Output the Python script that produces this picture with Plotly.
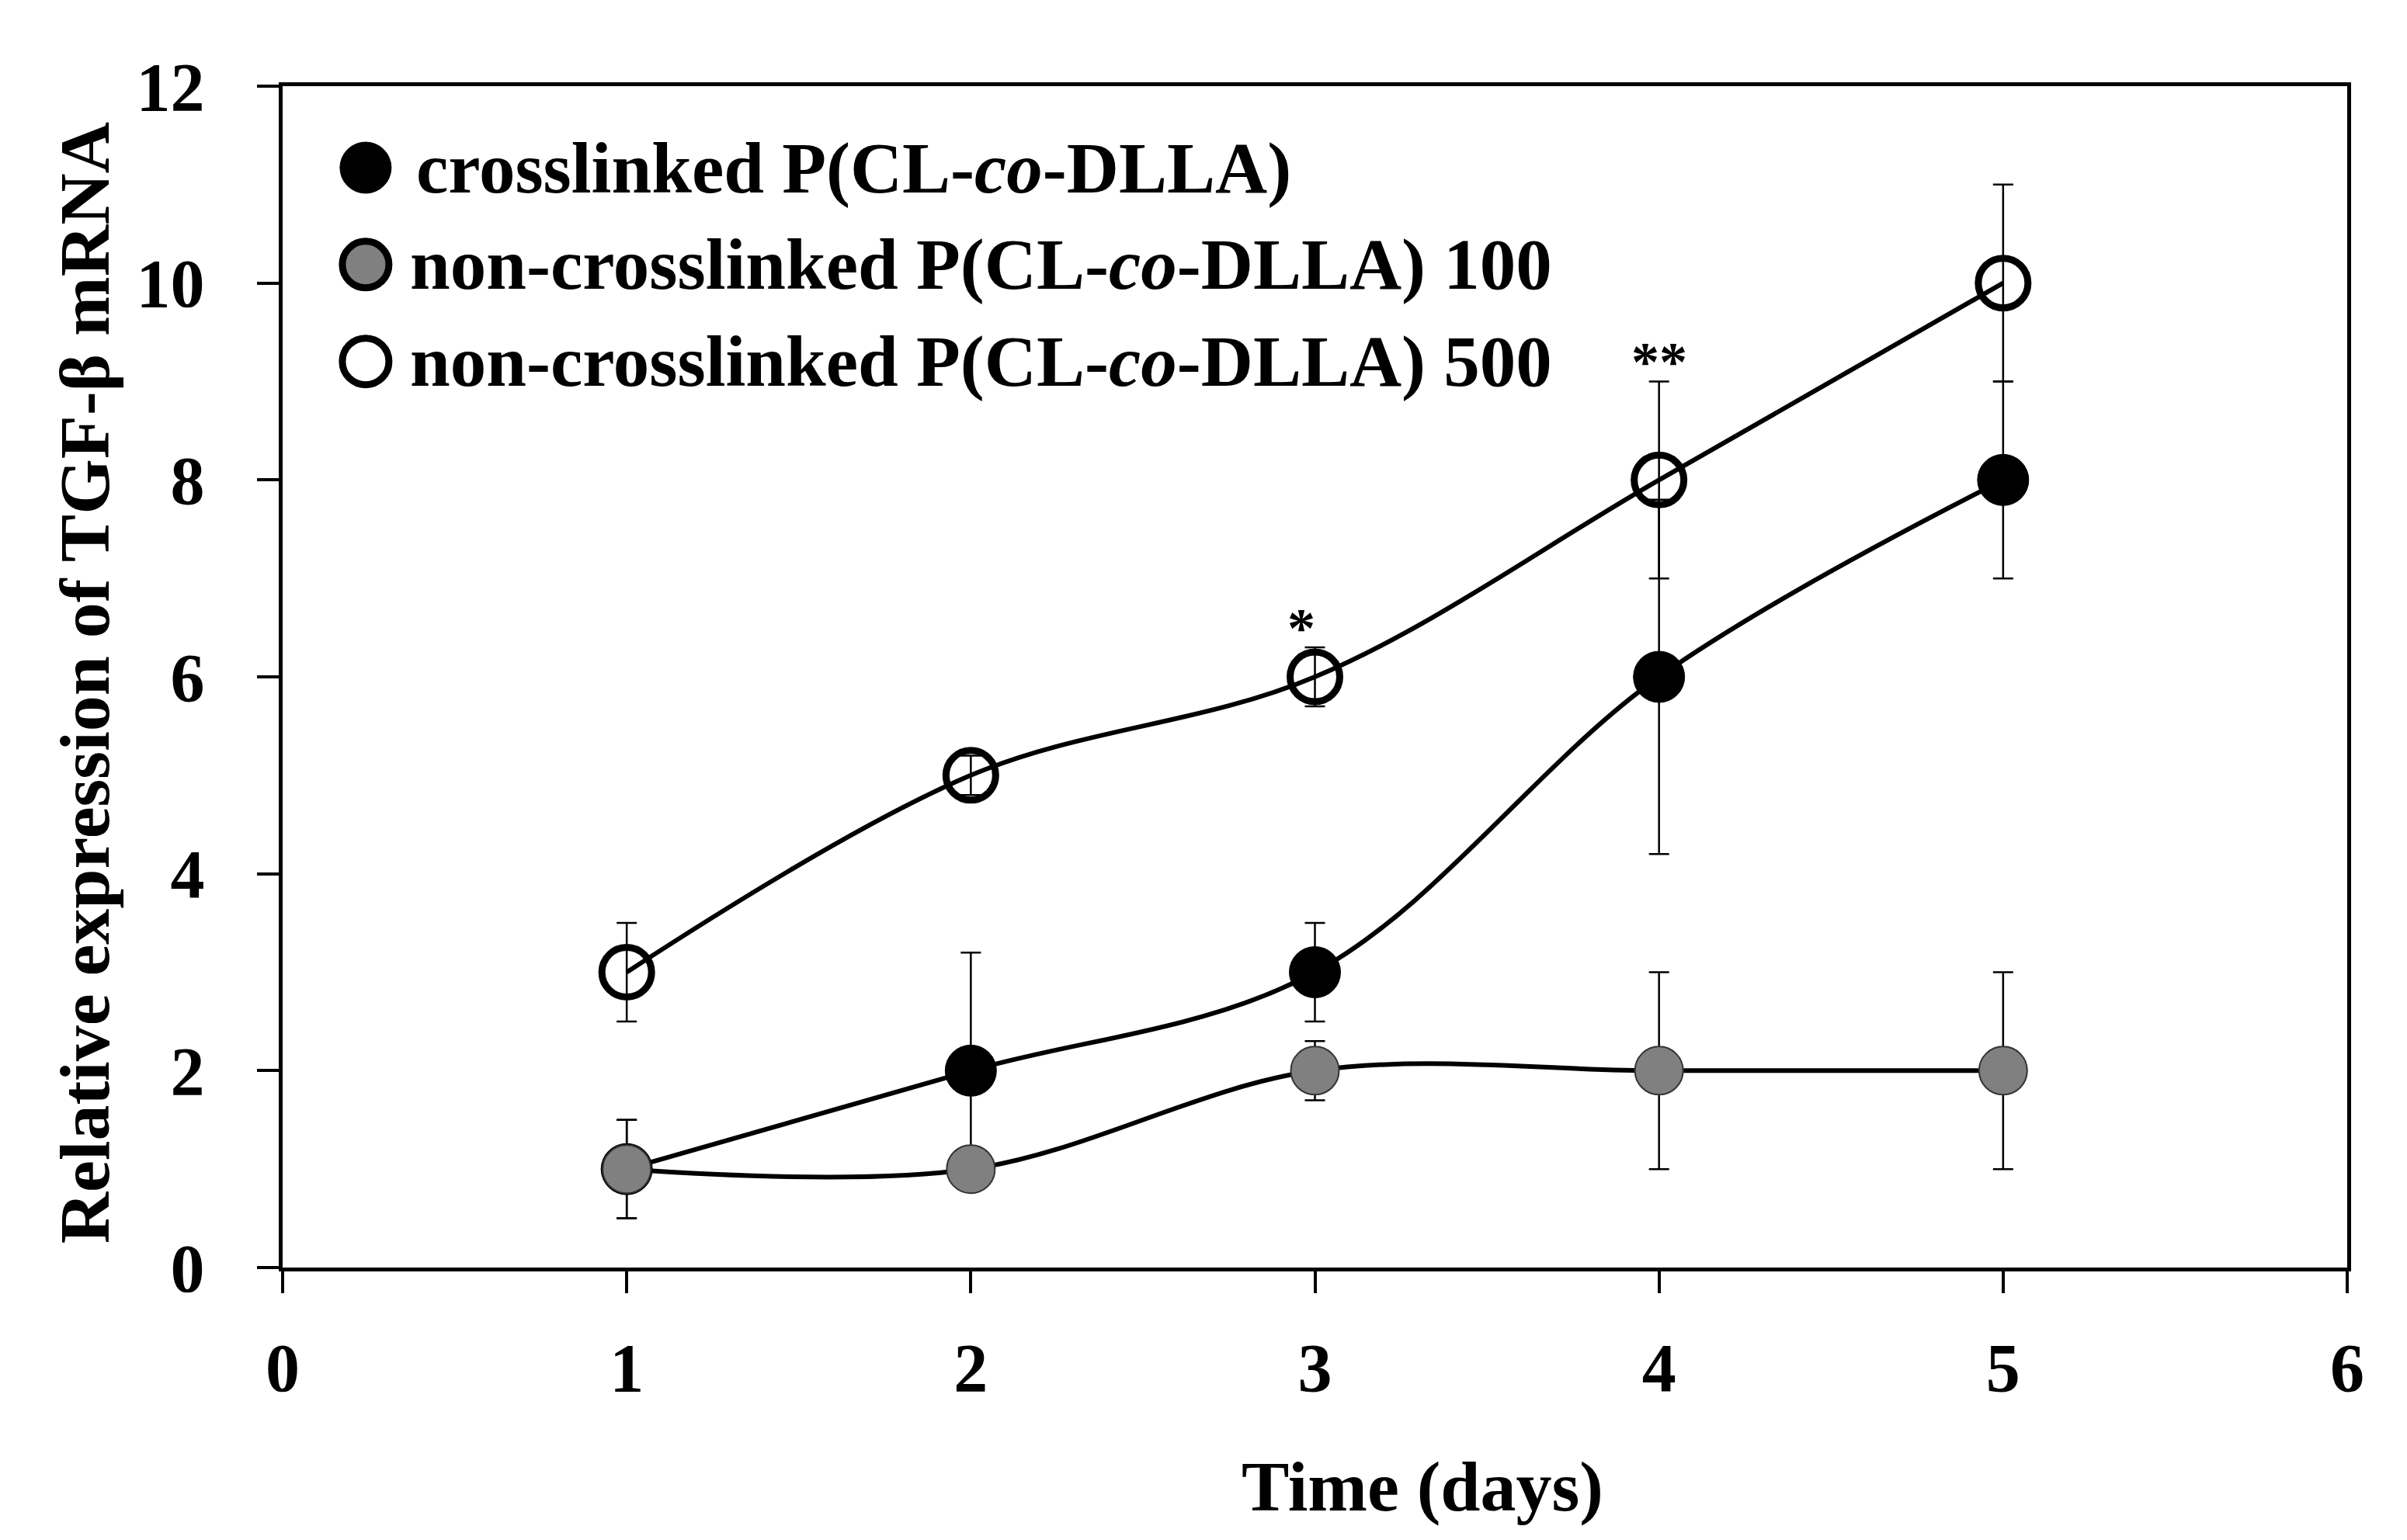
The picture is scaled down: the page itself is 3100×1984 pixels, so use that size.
import plotly.graph_objects as go

# Data
days = [1, 2, 3, 4, 5]

crosslinked = [1, 2, 3, 6, 8]
crosslinked_err = [0.5, 1.2, 0.5, 1.8, 1.0]

noncross_100 = [1, 1, 2, 2, 2]
noncross_100_err = [0.5, 0.1, 0.3, 1.0, 1.0]

noncross_500 = [3, 5, 6, 8, 10]
noncross_500_err = [0.5, 0.2, 0.3, 1.0, 1.0]

series_names = [
    "crosslinked P(CL-<i>co</i>-DLLA)",
    "non-crosslinked P(CL-<i>co</i>-DLLA) 100",
    "non-crosslinked P(CL-<i>co</i>-DLLA) 500",
]

sig_days = [2.96, 4]
sig_y = [6.5, 9.2]
sig_labels = ["*", "**"]

x_ticks = [0, 1, 2, 3, 4, 5, 6]
y_ticks = [0, 2, 4, 6, 8, 10, 12]

FONT = "Liberation Serif, Times New Roman, serif"

styles = [
    dict(color="black", line=dict(color="black", width=1), size=66),
    dict(color="#808080", line=dict(color="#333333", width=2), size=62),
    dict(color="rgba(0,0,0,0)", line=dict(color="black", width=9), size=64),
]

fig = go.Figure()

for y, err, st in [
    (noncross_500, noncross_500_err, styles[2]),
    (crosslinked, crosslinked_err, styles[0]),
    (noncross_100, noncross_100_err, styles[1]),
]:
    fig.add_trace(go.Scatter(
        x=days, y=y,
        mode="lines+markers",
        line=dict(color="black", width=6, shape="spline", smoothing=1),
        marker=dict(symbol="circle", opacity=1, **st),
        error_y=dict(type="data", array=err, color="black", thickness=2.5, width=13),
        showlegend=False,
        cliponaxis=False,
    ))

# hand-made legend with big keys, on a hidden overlay axis
leg_x = 0.0402
leg_y = [0.931, 0.849, 0.767]
fig.add_trace(go.Scatter(
    x=[leg_x] * 3, y=leg_y,
    mode="markers",
    marker=dict(
        symbol="circle",
        opacity=1,
        size=[66, 60, 60],
        color=["black", "#808080", "white"],
        line=dict(color="black", width=[1, 9, 9]),
    ),
    xaxis="x2", yaxis="y2",
    showlegend=False, hoverinfo="skip",
))

for i, name in enumerate(series_names):
    fig.add_annotation(
        x=0.064 if i == 0 else 0.061, y=leg_y[i], xref="paper", yref="paper",
        text=name, showarrow=False, xanchor="left", yanchor="middle",
        font=dict(family=FONT, size=93, color="black", weight="bold"),
    )

for xd, yd, lab in zip(sig_days, sig_y, sig_labels):
    fig.add_annotation(
        x=xd, y=yd, text=lab, showarrow=False, yanchor="middle",
        font=dict(family=FONT, size=72, color="black", weight="bold"),
    )

# axis titles
fig.add_annotation(
    x=0.552, y=-0.185, xref="paper", yref="paper", text="Time (days)",
    showarrow=False, xanchor="center", yanchor="middle",
    font=dict(family=FONT, size=92, color="black", weight="bold"),
)
fig.add_annotation(
    x=-0.096, y=0.495, xref="paper", yref="paper",
    text="Relative expression of TGF-β mRNA", textangle=-90,
    showarrow=False, xanchor="center", yanchor="middle",
    font=dict(family=FONT, size=92, color="black", weight="bold"),
)

axis_common = dict(
    showline=True, linecolor="black", linewidth=5, mirror=True,
    ticks="outside", ticklen=28, tickwidth=4, tickcolor="black",
    showgrid=False, zeroline=False,
    tickfont=dict(family=FONT, size=88, color="black", weight="bold"),
)

fig.update_layout(
    width=3100, height=1984,
    margin=dict(l=356, r=85, t=103, b=359),
    paper_bgcolor="white", plot_bgcolor="white",
    xaxis=dict(range=[0, 6], tickvals=x_ticks, ticklabelstandoff=20, **axis_common),
    yaxis=dict(range=[0, 12], tickvals=y_ticks, ticklabelstandoff=50, **axis_common),
    xaxis2=dict(range=[0, 1], overlaying="x", visible=False, fixedrange=True),
    yaxis2=dict(range=[0, 1], overlaying="y", visible=False, fixedrange=True),
    showlegend=False,
)

fig.write_html("out.html")
